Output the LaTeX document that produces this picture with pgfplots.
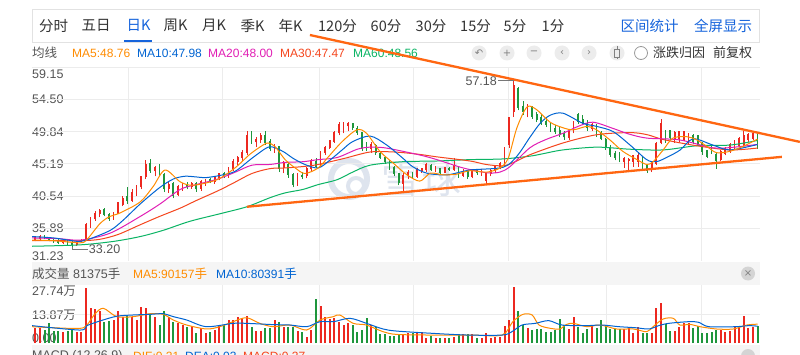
\documentclass[border=0pt]{standalone}
\usepackage{pgfplots}
\pgfplotsset{compat=1.18}
\usepackage{pgfplotstable}
\usepackage{fontspec}
\setmainfont{Liberation Sans}
\newfontfamily\cjk{Noto Sans CJK SC}
\newfontfamily\sym{DejaVu Sans}
\newcommand\fs[1]{\fontsize{#1}{#1}\selectfont}
\definecolor{txt}{RGB}{51,51,51}
\definecolor{lbl}{RGB}{85,85,85}
\definecolor{tabblue}{RGB}{22,100,220}
\definecolor{upc}{RGB}{236,40,32}
\definecolor{dnc}{RGB}{30,150,60}
\definecolor{ma5}{RGB}{255,140,0}
\definecolor{ma10}{RGB}{0,100,210}
\definecolor{ma20}{RGB}{225,30,180}
\definecolor{ma30}{RGB}{245,70,30}
\definecolor{ma60}{RGB}{10,180,100}
\definecolor{trend}{RGB}{255,102,17}
\definecolor{gridc}{RGB}{236,236,236}
\definecolor{band}{RGB}{245,245,245}
\definecolor{wm}{RGB}{222,228,238}
\definecolor{iconbg}{RGB}{236,236,236}
\definecolor{boxc}{RGB}{226,226,226}
% rising candles (close >= open): index open high low close volume(10k)
\pgfplotstableread{
i o h l c v
0 34.2 34.8 34.0 34.6 7.0
1 34.4 34.9 34.2 34.7 7.0
6 33.8 34.2 33.6 34.0 5.4
9 33.5 34.1 33.4 33.9 5.1
10 33.9 34.3 33.8 34.1 5.1
11 34.2 36.6 34.1 36.4 26.2
12 36.3 37.5 36.0 37.3 16.9
13 37.2 38.4 37.0 38.0 16.3
14 37.9 38.7 37.5 38.4 15.4
17 37.4 38.2 37.1 38.0 11.0
18 38.0 39.7 37.9 39.5 15.4
19 39.3 40.5 39.1 40.2 12.6
21 39.9 41.5 39.7 41.0 12.6
22 41.0 42.2 40.5 41.6 11.0
23 41.8 43.5 41.5 43.3 17.4
24 43.3 45.7 43.0 45.0 16.9
26 44.1 44.9 43.4 44.6 12.6
29 41.5 42.6 41.0 42.2 12.6
31 40.7 42.2 40.5 41.9 9.4
32 41.9 42.4 41.3 42.1 8.6
34 41.8 42.5 41.6 42.3 8.3
36 41.6 42.8 41.3 42.6 7.3
37 42.5 43.0 42.0 42.8 4.6
39 42.6 43.4 42.3 43.2 6.2
40 43.1 43.9 42.8 43.7 8.6
42 43.4 44.8 43.2 44.5 11.0
43 44.5 45.9 44.2 45.5 11.0
44 45.5 46.3 45.0 46.0 12.6
45 46.0 47.2 45.6 46.8 12.1
46 46.8 50.0 46.5 49.3 13.0
48 48.3 49.0 47.6 48.7 5.7
49 48.6 49.6 48.2 49.2 5.7
52 47.3 48.0 46.8 47.7 11.0
54 44.6 45.6 43.8 45.2 7.8
57 42.2 43.9 42.0 43.6 5.7
59 43.4 44.7 43.1 44.4 3.0
60 44.4 45.9 44.1 45.6 6.2
62 44.9 47.1 44.8 46.9 17.8
63 46.8 47.8 46.5 47.5 12.6
64 47.5 48.7 47.3 48.5 11.3
65 48.4 50.0 48.2 49.6 11.8
66 49.6 51.2 49.3 50.8 10.2
67 49.8 51.3 49.6 50.7 8.6
68 50.6 51.2 49.9 50.9 9.4
73 47.3 48.3 46.8 48.0 8.6
80 42.3 43.9 41.2 43.5 4.1
81 43.4 44.3 43.0 43.9 4.6
83 43.3 44.6 43.2 44.3 5.1
84 44.2 44.6 43.9 44.4 5.1
85 44.3 45.3 44.0 45.0 2.2
87 44.3 44.9 44.0 44.6 2.5
89 43.9 44.8 43.8 44.6 2.2
91 44.3 46.0 44.2 44.9 3.0
93 43.5 44.4 43.3 44.1 4.1
95 43.3 44.5 43.1 44.3 4.1
97 43.8 44.4 43.5 44.2 2.5
98 42.7 43.9 42.3 43.7 4.6
99 43.7 44.4 43.4 44.2 2.2
100 44.2 44.9 43.9 44.7 3.0
101 44.7 45.5 44.4 45.2 3.0
102 45.3 47.6 45.0 47.3 8.3
103 47.9 52.0 47.5 51.8 11.0
104 52.6 57.18 52.0 56.4 27.0
107 52.1 53.8 51.9 53.5 7.0
116 48.9 50.0 48.7 49.8 6.7
117 49.8 51.4 49.6 51.2 12.4
121 50.2 51.1 50.0 50.8 8.3
128 45.4 46.2 44.6 45.9 6.7
129 45.6 46.0 44.3 45.8 7.8
130 45.5 46.5 44.8 46.3 4.6
131 45.5 46.7 44.8 46.4 7.8
134 44.3 45.6 44.0 45.4 4.6
135 45.2 48.4 45.0 48.1 16.9
136 48.2 51.6 48.0 51.0 18.9
139 48.6 49.9 48.2 49.6 5.7
140 48.8 49.9 48.4 49.8 7.8
141 48.7 50.0 48.5 49.8 9.4
142 48.5 49.7 47.9 49.4 9.4
149 45.8 47.2 45.6 46.9 6.2
150 46.6 47.6 46.4 47.4 5.4
151 46.9 48.2 46.8 48.0 5.7
152 47.3 48.6 47.2 48.4 7.8
153 47.7 49.1 47.6 48.8 7.8
154 47.9 49.9 47.7 49.3 13.1
155 48.6 49.6 48.4 49.4 7.0
156 48.8 49.8 48.6 49.5 7.8
}\up
% falling candles (close < open)
\pgfplotstableread{
i o h l c v
2 34.7 34.9 34.3 34.4 6.2
3 34.5 34.7 34.0 34.1 9.4
4 34.1 34.4 33.8 34.0 5.7
5 34.1 34.3 33.6 33.8 5.7
7 34.0 34.2 33.5 33.7 5.7
8 33.8 34.0 33.2 33.5 6.7
15 38.5 38.8 37.6 37.8 10.2
16 37.9 38.1 37.0 37.3 10.5
20 40.4 41.8 39.4 39.8 13.4
25 45.2 45.9 43.9 44.2 13.7
27 44.8 45.2 43.4 43.7 8.6
28 43.6 43.8 41.1 41.5 15.4
30 42.3 42.5 40.2 40.6 10.2
33 42.2 42.6 41.5 41.8 7.8
35 42.3 42.6 41.2 41.5 4.6
38 42.9 43.2 42.4 42.6 5.1
41 43.8 44.0 43.1 43.4 8.6
47 49.4 50.0 48.1 48.4 7.8
50 49.3 50.0 47.9 48.2 7.0
51 48.4 48.8 47.0 47.3 7.3
53 47.6 47.8 44.0 44.5 10.2
55 45.0 45.4 43.2 43.6 7.8
56 43.6 43.9 41.8 42.2 7.8
58 43.5 44.0 43.0 43.3 5.4
61 45.5 46.0 44.6 44.8 21.0
69 50.9 51.0 50.1 50.3 8.6
70 50.3 50.6 49.4 49.7 5.4
71 49.6 49.8 47.1 47.4 6.2
72 47.4 48.3 47.0 47.2 12.1
74 47.8 48.0 46.5 46.8 7.8
75 46.7 47.0 45.9 46.1 4.4
76 46.1 46.3 45.2 45.4 4.4
77 45.4 45.7 44.3 44.6 3.5
78 44.6 44.9 43.4 43.7 3.5
79 43.7 43.9 42.1 42.4 3.8
82 43.8 44.0 43.1 43.3 4.6
86 44.9 45.2 44.1 44.3 3.3
88 44.5 44.6 43.6 43.9 2.2
90 44.5 44.8 44.2 44.3 2.2
92 44.8 44.9 43.2 43.5 4.1
94 44.1 44.2 43.0 43.3 4.1
96 44.2 44.3 43.6 43.8 2.5
105 56.0 56.3 52.9 53.3 15.4
106 53.4 54.2 52.3 52.7 8.6
108 53.4 53.6 51.7 52.0 6.2
109 52.2 52.6 51.2 51.5 6.7
110 51.8 52.4 50.8 51.0 6.7
111 51.2 51.9 50.5 50.8 5.4
112 50.9 51.3 49.8 50.1 5.4
113 50.3 50.8 49.5 49.8 6.2
114 50.0 50.5 49.0 49.3 11.5
115 49.5 49.9 48.7 49.0 8.6
118 52.2 52.5 51.0 51.3 7.8
119 51.5 52.2 50.8 51.0 4.6
120 51.0 51.5 50.0 50.3 6.7
122 50.8 50.9 49.1 49.5 7.3
123 49.5 49.9 48.6 48.8 11.0
124 48.7 48.9 47.2 47.5 8.6
125 47.5 47.9 46.2 46.5 6.7
126 46.6 47.1 45.7 46.0 6.7
127 46.0 46.9 45.4 45.7 6.7
132 46.0 46.3 44.5 44.9 4.6
133 44.9 45.2 43.85 44.2 4.6
137 50.0 50.1 48.2 48.6 8.9
138 50.0 50.1 48.7 48.9 5.7
143 49.3 49.5 48.0 48.3 7.0
144 49.2 49.3 47.7 48.0 8.3
145 48.1 48.3 46.5 46.9 4.6
146 47.1 47.2 46.0 46.2 4.6
147 47.6 47.8 46.6 46.8 5.4
148 46.5 46.8 44.5 45.6 6.2
157 49.5 49.8 47.4 48.0 8.1
}\dn

\begin{document}
\begin{tikzpicture}[x=1pt,y=1pt]
\useasboundingbox (0,0) rectangle (800,354);
\clip (0,0) rectangle (800,354);
\fill[white] (0,0) rectangle (800,354);

\begin{scope}[shift={(0,354)}, y=-1pt]
% toolbar
\draw[boxc, line width=0.8pt] (32,9.5) rectangle (759.5,42.5);
\begin{scope}[every node/.style={inner sep=0pt, text=txt, font=\cjk\fs{14.5}}]
\node at (53.5,25.7) {分时};
\node at (96,25.7) {五日};
\node[text=tabblue] at (138.5,25.7) {日K};
\node at (175.5,25.7) {周K};
\node at (214,25.7) {月K};
\node at (252.5,25.7) {季K};
\node at (290.5,25.7) {年K};
\node at (337.5,25.7) {120分};
\node at (386,25.7) {60分};
\node at (431,25.7) {30分};
\node at (475.5,25.7) {15分};
\node at (515,25.7) {5分};
\node at (553,25.7) {1分};
\node[text=tabblue] at (649.5,25.7) {区间统计};
\node[text=tabblue] at (723,25.7) {全屏显示};
\end{scope}
\draw[tabblue, line width=2pt] (124,40.8) -- (152,40.8);

% MA row
\node[anchor=west, inner sep=0pt, text=lbl, font=\cjk\fs{12.5}] at (32,53) {均线};
\begin{scope}[every node/.style={anchor=west, inner sep=0pt, font=\fs{12}}]
\node[text=ma5] at (72,53) {MA5:48.76};
\node[text=ma10] at (137,53) {MA10:47.98};
\node[text=ma20] at (208,53) {MA20:48.00};
\node[text=ma30] at (280,53) {MA30:47.47};
\node[text=ma60] at (353,53) {MA60:48.56};
\end{scope}
% icons
\foreach \xx in {479,507,534,562,589,617} {\fill[iconbg] (\xx,53) circle (7.5pt);}
\begin{scope}[every node/.style={inner sep=0pt, text=gray, font=\sym\fs{10}}]
\node at (479,53) {↶};
\node at (507,53) {+};
\node at (534,53) {−};
\node at (562,53) {‹};
\node at (589,53) {›};
\end{scope}
\draw[gray, line width=0.7pt] (614.5,49) rectangle (619.5,57);
\draw[gray, line width=0.7pt] (617,46.5) -- (617,49) (617,57) -- (617,59.5);
\draw[gray!80, line width=0.8pt] (641,53) circle (6.5pt);
\node[anchor=west, inner sep=0pt, text=txt, font=\cjk\fs{13}] at (653,53) {涨跌归因};
\node[anchor=west, inner sep=0pt, text=txt, font=\cjk\fs{13}] at (713,53) {前复权};

% watermark
\draw[wm, line width=6pt] (349,179) circle (18pt);
\draw[wm, line width=4pt] (356,186) circle (8pt);
\node[inner sep=0pt, text=wm, font=\cjk\fs{40}] at (421,178) {雪球};

% price labels
\begin{scope}[every node/.style={anchor=west, inner sep=0pt, text=lbl, font=\fs{12.5}}]
\node at (32,74) {59.15};
\node at (32,99.4) {54.50};
\node at (32,131.7) {49.84};
\node at (32,164) {45.19};
\node at (32,196.3) {40.54};
\node at (32,228.6) {35.88};
\node at (32,256.5) {31.23};
\end{scope}
\end{scope}

% price pane
\begin{axis}[at={(32pt,93.4pt)}, anchor=south west, scale only axis,
  width=728pt, height=193.5pt,
  xmin=-0.72, xmax=157.54, ymin=31.23, ymax=59.15, clip=false,
  axis line style={draw=none}, tick style={draw=none},
  xticklabels={}, yticklabels={},
  xtick={20.15,40.6,61.7,82.3,102.8,124.1,144.7},
  ytick={35.88,40.54,45.19,49.84,54.50,59.15},
  grid=major, major grid style={gridc, line width=0.8pt}]
% wicks
\addplot[upc, line width=0.75pt, mark=none, quiver={u=0, v=\thisrow{h}-\thisrow{l}}]
  table[x=i, y=l] {\up};
\addplot[dnc, line width=0.75pt, mark=none, quiver={u=0, v=\thisrow{h}-\thisrow{l}}]
  table[x=i, y=l] {\dn};
% bodies
\addplot[upc, line width=1.9pt, mark=none, quiver={u=0, v=\thisrow{c}-\thisrow{o}+0.12}]
  table[x=i, y=o] {\up};
\addplot[dnc, line width=1.9pt, mark=none, quiver={u=0, v=\thisrow{o}-\thisrow{c}+0.12}]
  table[x=i, y=c] {\dn};
% MA60
\addplot[ma60, line width=1pt, smooth, mark=none] coordinates {
(-0.7,33.3) (9.7,33.5) (17,34.0) (22.8,34.7) (27.8,35.6) (33.6,36.9) (40.2,38.0) (46,39.0) (51,40.3) (54.3,41.0) (58.2,41.5) (61.5,42.2) (65.6,42.9) (69,44.0) (72.8,45.0) (79.9,45.5) (87.3,45.6) (94.5,45.8) (101.7,45.9) (107.5,46.3) (110,46.6) (114.7,47.2) (122.1,47.6) (129.3,47.3) (136.5,47.2) (143.8,47.8) (151,47.9) (157,48.56)};
% MA30
\addplot[ma30, line width=1pt, smooth, mark=none] coordinates {
(-0.7,34.1) (5,34.1) (10,34.1) (14,34.3) (18,35.0) (22.8,36.4) (27,37.6) (31.5,38.8) (35,39.9) (39.7,41.3) (43,42.4) (47.1,43.8) (51,44.5) (54.3,44.6) (58.2,44.8) (61.5,45.1) (67.3,46.0) (72.8,46.9) (78,46.9) (83,46.6) (87.3,46.2) (94.5,45.6) (98,45.1) (101.7,44.9) (104,45.4) (107.5,46.5) (114.7,48.2) (122.1,49.4) (129.3,49.7) (133,49.4) (136.5,48.7) (143.8,47.8) (151,47.2) (157,47.47)};
% MA20
\addplot[ma20, line width=1pt, smooth, mark=none] coordinates {
(-0.7,34.5) (5,34.4) (10,34.2) (16.3,35.2) (22.8,37.6) (27.1,39.4) (31.5,41.5) (35,42.2) (39.7,43.0) (43.5,44.0) (47.1,45.0) (51,45.1) (54.3,45.4) (58.2,45.5) (61.5,45.8) (65.6,46.1) (70,47.3) (72.8,47.6) (76,47.5) (79.9,47.0) (84,46.4) (87.3,45.8) (93,44.6) (98.2,43.9) (101,44.0) (103.2,44.8) (107.5,47.5) (111,48.7) (114.7,49.6) (118,50.6) (121.2,51.2) (125.6,50.3) (129,49.5) (133,48.9) (140,48.65) (147.3,47.5) (152,47.6) (157,48.0)};
% MA10
\addplot[ma10, line width=1pt, smooth, mark=none] coordinates {
(-0.7,34.7) (4,34.5) (7,34.2) (9.7,34.0) (12,34.4) (16.3,35.6) (19,37.0) (22.8,39.4) (27.1,41.8) (30,43.0) (32.5,43.4) (35,43.3) (37,43.2) (40,43.5) (43.4,44.1) (47.1,46.0) (50.6,47.6) (52.5,47.4) (54.3,46.8) (56,46.0) (58.6,45.1) (61.5,44.6) (64,45.7) (66.7,47.2) (69,48.4) (72.8,49.2) (76.4,47.9) (79.9,46.0) (82,44.8) (85.1,43.85) (89.5,43.6) (94.5,44.3) (101.7,44.7) (104.7,46.3) (107.5,49.0) (109.7,51.0) (111.9,52.2) (114.7,52.5) (119,51.05) (122,50.6) (125.6,49.85) (129.3,47.9) (132.9,45.8) (135,45.5) (137.5,46.2) (140.2,47.2) (143,48.8) (147.3,47.9) (151,47.2) (157,47.98)};
% MA5
\addplot[ma5, line width=1pt, smooth, mark=none] coordinates {
(-0.7,34.2) (4,34.1) (9.7,33.8) (11.2,34.25) (14.1,36.6) (16.2,37.6) (18.4,38.1) (22.8,39.7) (25.6,41.9) (28.2,44.3) (31.5,42.6) (34.3,42.1) (39.5,42.9) (43.4,44.6) (46.7,46.6) (49.5,47.9) (50.6,48.2) (52.1,47.7) (54.3,45.8) (56.5,44.6) (58.6,43.8) (61.5,44.6) (63.7,46.2) (66.7,48.4) (69.9,50.1) (72,49.6) (74.9,47.0) (77.8,45.3) (80.8,43.6) (83.6,42.7) (85.9,43.85) (88.6,43.6) (91.6,43.7) (94.5,44.2) (98.2,44.0) (101,44.6) (102.8,46.0) (104.7,50.4) (106.9,53.4) (109,53.0) (111.9,51.2) (114.7,50.4) (117,50.1) (120,50.6) (122,50.1) (124.9,48.65) (127.7,47.0) (130.8,45.8) (132.9,45.1) (134.3,45.5) (136.5,47.2) (138.6,48.9) (141.7,49.1) (143.8,48.65) (146,47.7) (148.1,46.8) (151,47.0) (153.8,47.7) (157,48.76)};
% trend lines
\addplot[trend, line width=2.3pt, mark=none] coordinates {(59.7,63.78) (166.2,48.36)};
\addplot[trend, line width=2.3pt, mark=none] coordinates {(46.0,39.0) (162.3,46.2)};
% annotations
\draw[lbl!80, line width=0.6pt] (axis cs:100.6,57.18) -- (axis cs:104,57.18);
\node[anchor=east, inner sep=1pt, text=lbl, font=\fs{12.5}] at (axis cs:100.6,57.18) {57.18};
\draw[lbl!80, line width=0.6pt] (axis cs:8,33.2) -- (axis cs:8,32.85) -- (axis cs:11.4,32.85);
\node[anchor=west, inner sep=1pt, text=lbl, font=\fs{12.5}] at (axis cs:11.4,32.85) {33.20};
\end{axis}

\begin{scope}[shift={(0,354)}, y=-1pt]
% volume header band
\fill[band] (32,262) rectangle (760,285);
\node[anchor=west, inner sep=0pt, text=lbl, font=\fs{12.5}] at (32,273.5) {{\cjk 成交量} 81375{\cjk 手}};
\node[anchor=west, inner sep=0pt, text=ma5, font=\fs{12}] at (133,273.5) {MA5:90157{\cjk\fs{12.5}手}};
\node[anchor=west, inner sep=0pt, text=ma10, font=\fs{12}] at (216,273.5) {MA10:80391{\cjk\fs{12.5}手}};
\fill[iconbg!90!black] (748,273.5) circle (7pt);
\node[inner sep=0pt, text=gray, font=\sym\fs{10}] at (748,273.5) {×};
% volume labels
\begin{scope}[every node/.style={anchor=west, inner sep=0pt, text=lbl, font=\fs{12.5}}]
\node at (32,291.5) {27.74{\cjk 万}};
\node at (32,315) {13.87{\cjk 万}};
\node at (32,338) {0.00};
\end{scope}
\end{scope}

% volume pane
\begin{axis}[at={(32pt,11pt)}, anchor=south west, scale only axis,
  width=728pt, height=58pt,
  xmin=-0.72, xmax=157.54, ymin=0, ymax=27.74, clip=false,
  axis line style={draw=none}, tick style={draw=none},
  xticklabels={}, yticklabels={},
  xtick={20.15,40.6,61.7,82.3,102.8,124.1,144.7},
  ytick={13.87},
  grid=major, major grid style={gridc, line width=0.8pt}]
\addplot[upc, line width=2.0pt, mark=none, quiver={u=0, v=\thisrow{v}}]
  table[x=i, y expr=0] {\up};
\addplot[dnc, line width=2.0pt, mark=none, quiver={u=0, v=\thisrow{v}}]
  table[x=i, y expr=0] {\dn};
\addplot[ma5, line width=1pt, smooth, mark=none] coordinates {
(-0.7,7.8) (5,7.2) (9.7,7.0) (11.2,8.5) (13,14.0) (14.8,16.6) (17.7,12.6) (21.3,12.6) (24.9,14.0) (27.8,13.7) (30,11.0) (32.9,8.6) (37.2,6.7) (40.1,7.8) (43,10.2) (45.9,12.1) (48.8,9.4) (51.7,7.8) (55.4,8.6) (59,6.2) (61.9,11.0) (64.8,12.6) (66.2,13.4) (69.1,9.4) (72,8.6) (75.6,5.4) (78.6,4.1) (86.5,3.8) (95,3.8) (101.5,3.8) (103.8,10.2) (106,13.7) (108,13.4) (109.5,8.6) (112,7.0) (114,6.7) (115.5,8.9) (117,9.4) (119.9,7.8) (122.8,8.6) (126.4,6.7) (130,6.7) (132.9,5.4) (134.3,7.8) (136.5,11.5) (138.7,11.8) (140.1,8.6) (142.3,8.9) (144.5,7.8) (148.1,6.7) (151.7,6.7) (154.7,8.6) (157,9.0)};
\addplot[ma10, line width=1pt, smooth, mark=none] coordinates {
(-0.7,8.3) (9.7,6.2) (11.2,8.3) (14,10.5) (17.7,12.8) (21.3,13.4) (24.9,13.7) (27.8,14.0) (30,12.6) (32.9,11.0) (37.2,7.8) (43,9.4) (45.9,9.4) (51.7,8.8) (55.4,8.6) (59,7.8) (61.9,10.2) (64.8,10.2) (68.4,11.8) (72,9.4) (75.6,6.7) (78.6,5.7) (86.5,4.6) (94,3.8) (101.5,3.8) (103.6,5.4) (105.8,8.6) (108.7,9.4) (111.6,10.7) (114.5,8.6) (119.6,8.3) (123.2,8.6) (126.9,7.8) (130.5,7.3) (133.4,6.7) (135.5,8.3) (137.7,9.4) (142.1,10.2) (144.2,9.9) (146.4,7.8) (152.2,7.8) (155.1,8.3) (157,8.04)};
\end{axis}

\begin{scope}[shift={(0,354)}, y=-1pt]
% MACD header band
\fill[band] (32,344.5) rectangle (760,362);
\node[anchor=west, inner sep=0pt, text=lbl, font=\fs{12.5}] at (32,356) {MACD (12,26,9)};
\node[anchor=west, inner sep=0pt, text=ma5, font=\fs{12}] at (133,356) {DIF:0.21};
\node[anchor=west, inner sep=0pt, text=ma10, font=\fs{12}] at (185,356) {DEA:0.03};
\node[anchor=west, inner sep=0pt, text=ma30, font=\fs{12}] at (243,356) {MACD:0.37};
\fill[iconbg!90!black] (748,356) circle (7pt);
\end{scope}
\end{tikzpicture}
\end{document}
